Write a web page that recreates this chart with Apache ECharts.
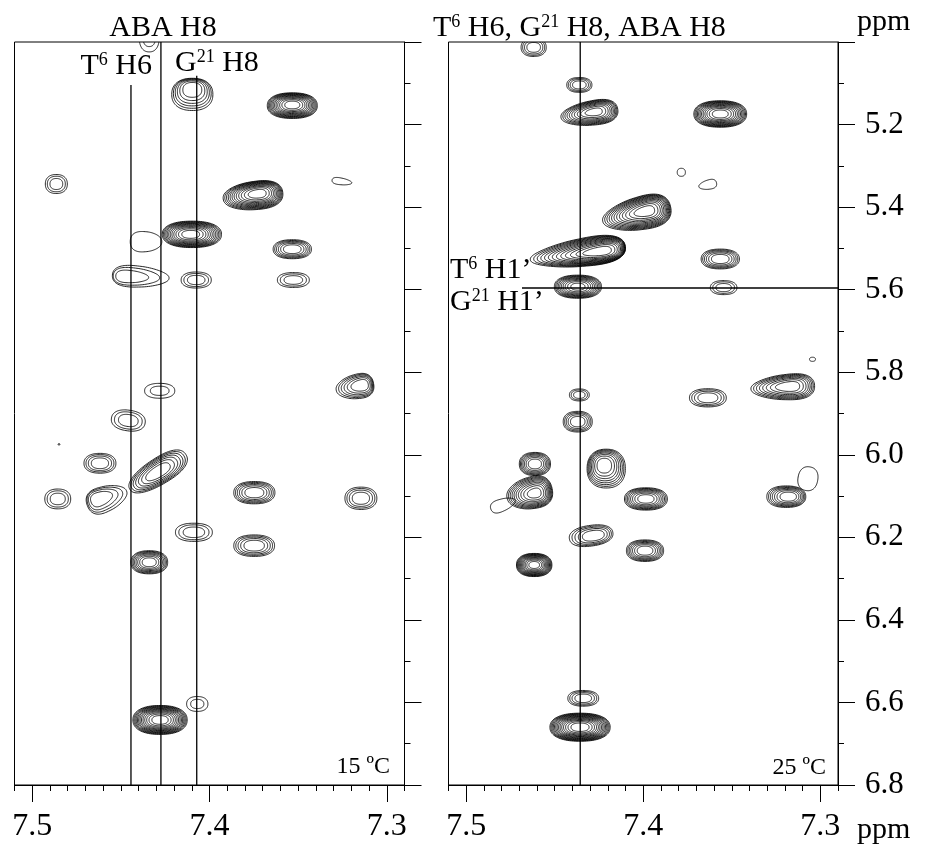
<!DOCTYPE html>
<html><head><meta charset="utf-8">
<script src="https://cdn.jsdelivr.net/npm/echarts@6/dist/echarts.min.js"></script>
<style>html,body{margin:0;padding:0;background:#fff}#c{width:927px;height:848px}</style>
</head><body><div id="c"></div>
<script>
// ---- data ----
const xRange = [7.29, 7.51];
const yRange = [5.0, 6.8];
const xMajorTicks = [7.3, 7.4, 7.5];
const xMinorTicks = [7.29, 7.30, 7.31, 7.32, 7.33, 7.34, 7.35, 7.36, 7.37, 7.38, 7.39, 7.40,
                     7.41, 7.42, 7.43, 7.44, 7.45, 7.46, 7.47, 7.48, 7.49, 7.50, 7.51];
const yMajorTicks = [5.0, 5.2, 5.4, 5.6, 5.8, 6.0, 6.2, 6.4, 6.6, 6.8];
const yMinorTicks = [5.1, 5.3, 5.5, 5.7, 5.9, 6.1, 6.3, 6.5, 6.7];
const yLabels = [5.2, 5.4, 5.6, 5.8, 6.0, 6.2, 6.4, 6.6, 6.8];

// peaks: [x ppm, y ppm, half-width x (ppm), half-width y (ppm), contour levels, tilt deg, shift x, shift y, taper]
const peaks15 = [
  [7.434, 4.99, 0.0056, 0.034, 2, 0, 0, 0, 0],
  [7.4097, 5.116, 0.0116, 0.039, 6, 0, 0, 0.28, 0],
  [7.3533, 5.1526, 0.0141, 0.031, 12, 0, 0, 0.05, 0],
  [7.4864, 5.344, 0.0062, 0.023, 3, 0, 0, 0, 0],
  [7.3253, 5.338, 0.0056, 0.008, 1, 8, 0, 0, -0.3],
  [7.3731, 5.368, 0.0169, 0.034, 12, -6, -0.14, 0.13, 0.15],
  [7.4106, 5.466, 0.0167, 0.032, 12, 0, 0.04, 0, 0],
  [7.4358, 5.4838, 0.0089, 0.0242, 1, 0, 0, 0, -0.2],
  [7.3533, 5.502, 0.0108, 0.023, 6, 0, 0, 0, 0],
  [7.4436, 5.5686, 0.016, 0.025, 3, 3, 0.3, 0, -0.3],
  [7.4075, 5.5766, 0.0085, 0.0194, 3, 0, 0, 0, 0],
  [7.3527, 5.5766, 0.009, 0.018, 3, 0, 0, 0, 0],
  [7.3153, 5.8326, 0.0107, 0.029, 6, -10, -0.25, 0.1, 0.25],
  [7.4281, 5.845, 0.0085, 0.018, 2, 0, 0, 0, 0],
  [7.4458, 5.917, 0.0096, 0.025, 3, 8, 0, 0, 0],
  [7.4849, 5.9746, 0.0006, 0.0015, 1, 0, 0, 0, 0],
  [7.4618, 6.0206, 0.009, 0.024, 4, 0, 0, 0, 0],
  [7.4291, 6.0417, 0.0186, 0.0315, 7, -32, 0, 0, 0.1],
  [7.4856, 6.107, 0.0073, 0.024, 3, 0, 0, 0, 0],
  [7.4608, 6.1054, 0.0118, 0.030, 4, -20, 0.25, 0, -0.3],
  [7.3747, 6.0918, 0.0116, 0.027, 6, 0, 0, 0, 0],
  [7.3146, 6.1054, 0.009, 0.027, 4, 0, 0, 0, 0],
  [7.4088, 6.1878, 0.0104, 0.022, 3, 0, 0, 0, 0],
  [7.3748, 6.2202, 0.0115, 0.026, 5, 0, 0, 0, 0],
  [7.434, 6.2604, 0.0104, 0.028, 8, 0, 0, 0, 0],
  [7.4279, 6.6424, 0.0153, 0.035, 13, 0, 0, 0, 0],
  [7.4069, 6.6037, 0.006, 0.018, 2, 0, 0, 0, 0]
];
const peaks25 = [
  [7.4619, 5.013, 0.0071, 0.022, 4, 0, 0, 0, 0],
  [7.4361, 5.104, 0.0071, 0.018, 4, 0, 0, 0, 0],
  [7.428, 5.170, 0.0162, 0.029, 10, -8, -0.15, 0.1, 0.25],
  [7.3565, 5.1744, 0.0149, 0.032, 12, 0, 0, 0, 0],
  [7.3785, 5.3157, 0.0023, 0.0097, 1, 0, 0, 0, 0],
  [7.3636, 5.346, 0.0051, 0.011, 1, -12, 0, 0, 0.3],
  [7.3994, 5.411, 0.0196, 0.039, 12, -12, -0.22, 0.15, 0.3],
  [7.4261, 5.508, 0.0271, 0.033, 13, -8, -0.4, 0.1, 0.35],
  [7.4369, 5.5928, 0.0133, 0.028, 10, 0, 0, 0, 0],
  [7.3565, 5.5257, 0.0108, 0.024, 6, 0, 0, 0, 0],
  [7.3546, 5.595, 0.0075, 0.017, 3, 0, 0, 0, 0],
  [7.3044, 5.7687, 0.0017, 0.005, 1, 0, 0, 0, 0],
  [7.3185, 5.835, 0.018, 0.030, 8, -3, -0.15, 0.05, 0.3],
  [7.3635, 5.862, 0.0104, 0.022, 4, 0, 0, 0, 0],
  [7.4361, 5.855, 0.0056, 0.0145, 3, 0, 0, 0, 0],
  [7.437, 5.9198, 0.0082, 0.025, 5, 0, 0, 0, 0],
  [7.4612, 6.0223, 0.0088, 0.028, 7, 0, 0, 0, 0],
  [7.422, 6.0264, 0.0108, 0.047, 8, 0, 0.1, 0.15, 0],
  [7.4616, 6.0933, 0.013, 0.038, 10, -12, -0.2, 0, 0.2],
  [7.4792, 6.121, 0.0073, 0.0145, 1, -20, 0, 0, -0.3],
  [7.3985, 6.107, 0.0121, 0.027, 8, 0, 0, 0, 0],
  [7.3181, 6.1015, 0.011, 0.026, 7, 0, -0.1, 0, 0],
  [7.307, 6.058, 0.0056, 0.029, 1, 10, 0, 0, 0],
  [7.4282, 6.196, 0.0124, 0.025, 5, -8, -0.1, 0, 0],
  [7.399, 6.2323, 0.0105, 0.026, 7, 0, 0, 0, 0],
  [7.4616, 6.267, 0.01, 0.028, 12, 0, 0, 0, 0],
  [7.4339, 6.590, 0.0087, 0.019, 4, 0, 0, 0, 0],
  [7.4357, 6.660, 0.017, 0.034, 14, 0, 0, 0, 0]
];
// assignment guide lines
const guides15X = [7.4443, 7.4274, 7.4072];
const guides15Top = [5.104, 5.0, 5.082];
const guide25X = 7.4356;
const guide25Y = 5.596;
const guide25XStart = 7.4685;

// ---- rendering ----
const FONT = 'Liberation Serif';
const SQ = 2.3;
function peakRenderer(params, api) {
  const x = api.value(0), y = api.value(1), wx = api.value(2), wy = api.value(3);
  const n = api.value(4), tilt = api.value(5) * Math.PI / 180;
  const tx = api.value(6), ty = api.value(7), taper = api.value(8);
  const c = api.coord([x, y]);
  const e = api.coord([x + wx, y + wy]);
  const sx = Math.abs(e[0] - c[0]), sy = Math.abs(e[1] - c[1]);
  const m = n > 1 ? Math.max(0.3, 0.7 - 0.04 * n) : 1;
  const ca = Math.cos(tilt), sa = Math.sin(tilt);
  const children = [];
  for (let k = 0; k < n; k++) {
    const s2 = n > 1 ? 1 - k * (1 - m * m) / (n - 1) : 1;
    const s = Math.sqrt(s2);
    const off = n > 1 ? (s2 - m * m) / (1 - m * m) : 0;
    const ox = c[0] + tx * sx * off, oy = c[1] + ty * sy * off;
    const pts = [];
    for (let i = 0; i < 90; i++) {
      const t = i / 90 * Math.PI * 2;
      const ct = Math.cos(t), st = Math.sin(t);
      const u = sx * s * Math.sign(ct) * Math.pow(Math.abs(ct), 2 / SQ);
      const v = sy * s * Math.sign(st) * Math.pow(Math.abs(st), 2 / SQ) * (1 + taper * ct);
      pts.push([ox + u * ca - v * sa, oy + u * sa + v * ca]);
    }
    children.push({type: 'polygon', shape: {points: pts},
      style: {fill: 'none', stroke: '#000', lineWidth: 0.85}, silent: true});
  }
  return {type: 'group', children: children};
}

const black = {color: '#000', width: 1};
function xAxisMajor(g) {
  return {gridIndex: g, type: 'value', min: xRange[0], max: xRange[1], inverse: true, position: 'bottom',
    axisLine: {show: true, onZero: false, lineStyle: black},
    axisTick: {show: true, customValues: xMajorTicks, length: 17, inside: false, lineStyle: black},
    axisLabel: {show: true, customValues: xMajorTicks, formatter: v => v.toFixed(1), margin: 26,
      fontFamily: FONT, fontSize: 32, color: '#000'},
    splitLine: {show: false}};
}
function xAxisMinor(g) {
  return {gridIndex: g, type: 'value', min: xRange[0], max: xRange[1], inverse: true, position: 'bottom',
    axisLine: {show: false, onZero: false},
    axisTick: {show: true, customValues: xMinorTicks, length: 6, inside: false, lineStyle: black},
    axisLabel: {show: false}, splitLine: {show: false}};
}
function yAxisMajor(g, labels) {
  return {gridIndex: g, type: 'value', min: yRange[0], max: yRange[1], inverse: true, position: 'right',
    axisLine: {show: true, onZero: false, lineStyle: black},
    axisTick: {show: true, customValues: yMajorTicks, length: 17, inside: false, lineStyle: black},
    axisLabel: {show: labels, customValues: yLabels, formatter: v => v.toFixed(1), margin: 27,
      fontFamily: FONT, fontSize: 31, color: '#000'},
    splitLine: {show: false}};
}
function yAxisMinor(g) {
  return {gridIndex: g, type: 'value', min: yRange[0], max: yRange[1], inverse: true, position: 'right',
    axisLine: {show: false, onZero: false},
    axisTick: {show: true, customValues: yMinorTicks, length: 6, inside: false, lineStyle: black},
    axisLabel: {show: false}, splitLine: {show: false}};
}
function guideSeries(xi, yi, pts) {
  return {type: 'line', xAxisIndex: xi, yAxisIndex: yi, data: pts, showSymbol: false, symbol: 'none',
    lineStyle: {color: '#000', width: 1.3}, silent: true, animation: false, z: 3};
}

const series = [
  {type: 'custom', xAxisIndex: 0, yAxisIndex: 0, renderItem: peakRenderer, data: peaks15,
   encode: {x: 0, y: 1}, clip: true, silent: true, animation: false, z: 2},
  {type: 'custom', xAxisIndex: 2, yAxisIndex: 2, renderItem: peakRenderer, data: peaks25,
   encode: {x: 0, y: 1}, clip: true, silent: true, animation: false, z: 2}
];
guides15X.forEach((gx, i) => series.push(guideSeries(0, 0, [[gx, guides15Top[i]], [gx, yRange[1]]])));
series.push(guideSeries(2, 2, [[guide25X, yRange[0]], [guide25X, yRange[1]]]));
series.push(guideSeries(2, 2, [[guide25XStart, guide25Y], [xRange[0], guide25Y]]));

const base = {fontFamily: FONT, fill: '#000', fontSize: 30, lineHeight: 30};
const sup = {fontFamily: FONT, fill: '#000', fontSize: 18, lineHeight: 18, verticalAlign: 'top'};
function txt(x, y, text, align, size) {
  return {type: 'text', x: x, y: y, silent: true,
    style: {text: text, align: align, verticalAlign: 'middle', fontFamily: FONT, fontSize: size || 30, fill: '#000',
      rich: {a: Object.assign({}, base, size ? {fontSize: size, lineHeight: size} : {}), s: sup}}};
}

const option = {
  backgroundColor: '#fff',
  animation: false,
  grid: [
    {left: 14.5, top: 42, width: 390, height: 743, show: true, borderColor: '#000', borderWidth: 1,
     containLabel: false, outerBoundsMode: 'none'},
    {left: 448.5, top: 42, width: 389.5, height: 743, show: true, borderColor: '#000', borderWidth: 1,
     containLabel: false, outerBoundsMode: 'none'}
  ],
  xAxis: [xAxisMajor(0), xAxisMinor(0), xAxisMajor(1), xAxisMinor(1)],
  yAxis: [yAxisMajor(0, false), yAxisMinor(0), yAxisMajor(1, true), yAxisMinor(1)],
  series: series,
  graphic: [
    txt(163, 28, '{a|ABA H8}', 'center'),
    txt(152, 66, '{a|T}{s|6}{a| H6}', 'right'),
    txt(175, 63, '{a|G}{s|21}{a| H8}', 'left'),
    txt(433, 28, '{a|T}{s|6}{a| H6, G}{s|21}{a| H8, ABA H8}', 'left'),
    txt(857, 22, '{a|ppm}', 'left'),
    txt(450, 270, '{a|T}{s|6}{a| H1\u2019}', 'left'),
    txt(450, 302, '{a|G}{s|21}{a| H1\u2019}', 'left'),
    txt(390, 767, '{a|15 \u00baC}', 'right', 24),
    txt(826, 768, '{a|25 \u00baC}', 'right', 24),
    txt(857, 830, '{a|ppm}', 'left')
  ]
};
const chart = echarts.init(document.getElementById('c'), null, {renderer: 'canvas', width: 927, height: 848});
chart.setOption(option);
</script>
</body></html>
